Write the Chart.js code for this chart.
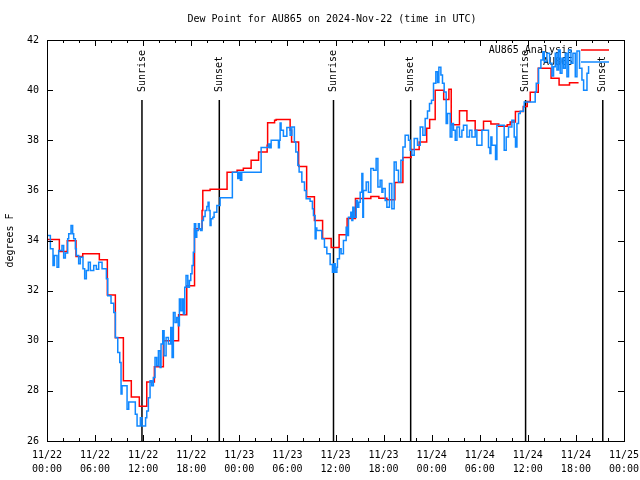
<!DOCTYPE html>
<html>
<head>
<meta charset="utf-8">
<script src="https://cdn.jsdelivr.net/npm/chart.js@4.4.1/dist/chart.umd.min.js"></script>
<style>
  body { margin: 0; background: #fff; }
</style>
</head>
<body>
<canvas id="chart" width="640" height="480"></canvas>
<script>
// Hours since 2024-11-22 00:00 UTC
const analysisHours = [0, 1.54, 2.53, 3.62, 4.46, 6.53, 7.53, 8.53, 9.53, 10.52, 11.52, 12.45, 13.4, 14.52, 16.42,
  17.44, 18.41, 19.35, 19.44, 20.35, 22.47, 23.72, 24.5, 25.47, 26.4, 27.47, 27.53, 28.4, 28.59, 30.34,
  30.52, 31.4, 32.4, 33.37, 34.39, 35.46, 36.45, 37.45, 38.49, 40.41, 41.41, 42.41, 43.41, 44.41, 45.44,
  46.44, 47.38, 47.75, 48.44, 49.5, 50.15, 50.44, 51.47, 52.4, 53.43, 54.47, 55.39, 56.37, 57.43, 57.8,
  58.45, 59.43, 59.93, 60.3, 61.3, 62.9, 63.9, 65.2, 66.33];
const analysisValues = [34.04, 33.56, 33.99, 33.36, 33.47, 33.23, 31.83, 30.12, 28.4, 27.76, 27.39, 28.35, 28.96, 30.0, 31.04,
  32.19, 34.47, 35.2, 36.0, 36.04, 36.72, 36.8, 36.88, 37.2, 37.53, 37.8, 38.7, 38.8, 38.83, 38.4,
  37.93, 36.95, 35.75, 34.8, 34.08, 33.72, 34.23, 34.88, 35.68, 35.76, 35.69, 35.63, 36.31, 37.31, 37.63,
  37.93, 38.48, 38.83, 40.0, 39.63, 40.03, 38.62, 39.18, 38.78, 38.4, 38.76, 38.65, 38.56, 38.62, 38.73,
  39.15, 39.35, 39.55, 39.92, 40.87, 40.47, 40.2, 40.29, 40.29];

const obsHours = [0, 0.42, 0.75, 0.92, 1.25, 1.46, 1.87, 2.08, 2.29, 2.58, 2.71, 3.0, 3.2, 3.33, 3.54, 3.66, 3.95,
  4.16, 4.49, 4.7, 4.91, 5.16, 5.41, 5.83, 6.16, 6.45, 6.87, 7.41, 7.58, 7.99, 8.33, 8.53, 8.83, 9.08,
  9.24, 9.36, 9.99, 10.2, 11.02, 11.24, 11.65, 11.86, 12.3, 12.45, 12.65, 12.86, 13.07, 13.27, 13.48,
  13.69, 13.9, 14.11, 14.23, 14.44, 14.61, 14.86, 15.15, 15.44, 15.61, 15.77, 15.98, 16.19, 16.39, 16.52,
  16.69, 16.89, 17.02, 17.19, 17.35, 17.57, 17.77, 17.94, 18.1, 18.26, 18.39, 18.56, 18.69, 18.89, 19.01,
  19.18, 19.35, 19.52, 19.73, 19.94, 20.1, 20.22, 20.35, 20.47, 20.69, 20.85, 21.19, 21.6, 23.13, 23.8,
  23.97, 24.13, 24.3, 26.72, 27.63, 27.8, 27.97, 28.88, 29.0, 29.09, 29.21, 29.5, 29.93, 30.34, 30.55,
  30.87, 31.05, 31.3, 31.46, 31.8, 32.13, 32.34, 32.83, 33.12, 33.25, 33.46, 33.58, 33.67, 34.29, 34.62,
  34.92, 35.33, 35.62, 35.79, 35.96, 36.17, 36.24, 36.49, 36.7, 36.99, 37.33, 37.49, 37.62, 37.91, 38.04,
  38.16, 38.33, 38.58, 38.74, 38.91, 39.08, 39.29, 39.41, 39.49, 39.83, 40.11, 40.41, 40.74, 41.07, 41.29,
  41.57, 41.79, 41.91, 42.2, 42.41, 42.73, 43.03, 43.32, 43.57, 43.86, 44.16, 44.41, 44.69, 45.11, 45.32,
  45.53, 45.82, 46.23, 46.57, 46.9, 47.19, 47.48, 47.73, 47.98, 48.23, 48.52, 48.73, 48.9, 49.15, 49.35,
  49.56, 49.81, 49.98, 50.31, 50.52, 50.72, 50.94, 51.15, 51.47, 51.77, 51.97, 52.4, 52.72, 53.02, 53.43,
  53.64, 54.27, 55.09, 55.27, 55.39, 55.52, 55.97, 56.14, 57.05, 57.3, 57.59, 58.01, 58.3, 58.46, 58.64,
  58.84, 59.05, 59.46, 59.55, 60.92, 61.05, 61.34, 61.63, 61.88, 62.05, 62.38, 62.71, 63.01, 63.21, 63.42,
  63.63, 63.83, 64.04, 64.26, 64.46, 64.67, 64.88, 65.08, 65.38, 65.63, 65.92, 66.13, 66.45, 66.75, 66.96,
  67.38, 67.58];
const obsValues = [34.2, 33.67, 33.0, 33.4, 32.93, 33.6, 33.8, 33.3, 33.5, 34.07, 34.27, 34.6, 34.27, 34.07, 33.67, 33.4, 33.07,
  33.33, 32.87, 32.47, 32.8, 33.13, 32.8, 33.0, 32.85, 33.13, 32.87, 32.47, 31.8, 31.5, 31.13, 30.13, 29.53, 29.13,
  27.88, 28.2, 27.27, 27.56, 27.07, 26.6, 26.93, 26.6, 26.93, 27.2, 27.73, 28.4, 28.2, 28.53, 29.33,
  29.0, 29.6, 28.93, 29.87, 30.4, 29.4, 30.13, 29.87, 30.53, 29.33, 31.13, 30.73, 30.93, 30.6, 31.67,
  31.2, 31.67, 31.07, 32.13, 32.6, 32.13, 32.4, 32.67, 33.0, 33.53, 34.67, 34.13, 34.4, 34.67, 34.47,
  34.4, 34.8, 34.96, 35.2, 35.36, 35.53, 35.2, 34.6, 34.87, 34.93, 35.13, 35.4, 35.71, 36.72, 36.47,
  36.72, 36.4, 36.72, 37.71, 37.85, 37.7, 38.0, 37.7, 38.0, 38.69, 38.4, 38.16, 38.51, 38.2, 38.53,
  37.93, 37.53, 37.0, 36.73, 36.33, 36.0, 35.67, 35.57, 35.27, 35.0, 34.07, 34.5, 34.4, 34.07, 33.73,
  33.47, 33.04, 32.73, 33.07, 32.73, 32.93, 33.27, 33.67, 33.47, 34.0, 34.53, 34.2, 34.93, 35.13, 34.8,
  35.33, 34.93, 35.6, 35.33, 35.53, 35.93, 36.67, 34.93, 36.0, 36.33, 35.93, 36.87, 36.8, 37.27, 36.13,
  36.4, 35.93, 36.07, 35.6, 35.33, 36.27, 35.27, 37.13, 36.8, 36.33, 37.2, 37.73, 38.2, 38.0, 37.6,
  37.4, 38.07, 37.8, 38.53, 38.2, 38.87, 39.17, 39.47, 39.6, 40.27, 40.73, 40.3, 40.91, 40.6, 40.27,
  39.93, 38.67, 39.07, 38.13, 38.67, 38.4, 38.0, 38.53, 38.13, 38.4, 38.6, 38.13, 38.4, 38.13, 38.4,
  37.8, 38.4, 37.71, 37.47, 38.13, 37.8, 37.23, 38.6, 37.6, 38.13, 38.53, 38.8, 38.13, 37.73, 38.67,
  39.07, 39.16, 39.33, 39.53, 39.93, 40.27, 40.87, 41.2, 41.53, 41.13, 41.47, 41.07, 40.56, 40.93, 41.47,
  40.8, 41.6, 40.67, 41.27, 40.87, 41.47, 40.53, 41.6, 41.07, 41.47, 40.53, 41.56, 40.87, 40.4, 40.0,
  40.67, 40.96];

const sunHours = [11.85, 21.5, 35.75, 45.38, 59.72, 69.35];
const sunLabels = ['Sunrise', 'Sunset', 'Sunrise', 'Sunset', 'Sunrise', 'Sunset'];

const tickDates = ['11/22', '11/22', '11/22', '11/22', '11/23', '11/23', '11/23', '11/23',
  '11/24', '11/24', '11/24', '11/24', '11/25'];
const tickTimes = ['00:00', '06:00', '12:00', '18:00', '00:00', '06:00', '12:00', '18:00',
  '00:00', '06:00', '12:00', '18:00', '00:00'];

const seriesNames = ['AU865 Analysis', 'AU865'];
const seriesColors = ['#ff0000', '#1088ff'];
const titleText = 'Dew Point for AU865 on 2024-Nov-22 (time in UTC)';

const FONT = 'DejaVu Sans Mono';
Chart.defaults.font.family = FONT;
Chart.defaults.font.size = 10;
Chart.defaults.color = '#000';

function toPoints(hours, values) {
  return hours.map((h, i) => ({ x: h, y: values[i] }));
}

// gnuplot look: box, inward ticks, sun lines, key and title
const gnuplotFrame = {
  id: 'gnuplotFrame',
  beforeDatasetsDraw(chart) {
    const { ctx, chartArea: a, scales: { x } } = chart;
    ctx.save();
    ctx.font = '10px ' + FONT;
    ctx.fillStyle = '#000';

    // sunrise / sunset markers
    ctx.strokeStyle = '#000';
    ctx.lineWidth = 1.5;
    sunHours.forEach((h, i) => {
      const px = x.getPixelForValue(h);
      ctx.beginPath();
      ctx.moveTo(px, a.top + 60);
      ctx.lineTo(px, a.bottom);
      ctx.stroke();
      ctx.save();
      ctx.translate(px, a.top + 52);
      ctx.rotate(-Math.PI / 2);
      ctx.textAlign = 'left';
      ctx.textBaseline = 'middle';
      ctx.fillText(sunLabels[i], 0, 0);
      ctx.restore();
    });

    // key
    ctx.textAlign = 'right';
    ctx.textBaseline = 'middle';
    ctx.lineWidth = 1.5;
    seriesNames.forEach((name, i) => {
      const ky = a.top + 10 + i * 12;
      ctx.fillText(name, a.right - 51, ky);
      ctx.strokeStyle = seriesColors[i];
      ctx.beginPath();
      ctx.moveTo(a.right - 43, ky);
      ctx.lineTo(a.right - 15, ky);
      ctx.stroke();
    });
    ctx.restore();
  },
  afterDraw(chart) {
    const { ctx, chartArea: a, scales: { x, y } } = chart;
    ctx.save();
    ctx.strokeStyle = '#000';
    ctx.lineWidth = 1;
    ctx.strokeRect(a.left + 0.5, a.top + 0.5, a.right - a.left, a.bottom - a.top);

    ctx.beginPath();
    for (let h = x.min; h <= x.max; h += 2) {
      const px = Math.round(x.getPixelForValue(h)) + 0.5;
      const len = h % 6 === 0 ? 6 : 3;
      ctx.moveTo(px, a.bottom);
      ctx.lineTo(px, a.bottom - len);
      ctx.moveTo(px, a.top);
      ctx.lineTo(px, a.top + len);
    }
    for (let v = y.min; v <= y.max; v += 2) {
      const py = Math.round(y.getPixelForValue(v)) + 0.5;
      ctx.moveTo(a.left, py);
      ctx.lineTo(a.left + 6, py);
      ctx.moveTo(a.right, py);
      ctx.lineTo(a.right - 6, py);
    }
    ctx.stroke();

    ctx.font = '10px ' + FONT;
    ctx.fillStyle = '#000';
    ctx.textAlign = 'center';
    ctx.textBaseline = 'middle';
    ctx.fillText(titleText, 332, 19);
    ctx.restore();
  }
};

new Chart(document.getElementById('chart'), {
  type: 'line',
  data: {
    datasets: [
      {
        label: seriesNames[0],
        data: toPoints(analysisHours, analysisValues),
        borderColor: seriesColors[0],
        borderWidth: 1.5,
        stepped: true,
        pointRadius: 0,
        fill: false,
        order: 2
      },
      {
        label: seriesNames[1],
        data: toPoints(obsHours, obsValues),
        borderColor: seriesColors[1],
        borderWidth: 1.5,
        stepped: true,
        pointRadius: 0,
        fill: false,
        order: 1
      }
    ]
  },
  options: {
    responsive: false,
    animation: false,
    layout: { padding: { top: 40, right: 16, left: 0, bottom: 0 } },
    plugins: {
      legend: { display: false },
      tooltip: { enabled: false }
    },
    scales: {
      x: {
        type: 'linear',
        min: 0,
        max: 72,
        grid: { display: false, drawTicks: false },
        border: { display: false },
        ticks: {
          stepSize: 6,
          autoSkip: false,
          maxRotation: 0,
          padding: 7,
          font: { family: FONT, size: 10, lineHeight: '14px' },
          callback: (value) => [tickDates[value / 6], tickTimes[value / 6]]
        },
        afterFit(scale) {
          scale.height = 39;
          scale.paddingLeft = 0;
          scale.paddingRight = 0;
        }
      },
      y: {
        min: 26,
        max: 42,
        grid: { display: false, drawTicks: false },
        border: { display: false },
        ticks: { stepSize: 2, padding: 8 },
        title: {
          display: true,
          text: 'degrees F',
          padding: { top: 4, bottom: 0 },
          font: { family: FONT, size: 10 }
        },
        afterFit(scale) {
          scale.width = 47;
          scale.paddingTop = 0;
          scale.paddingBottom = 0;
        }
      }
    }
  },
  plugins: [gnuplotFrame]
});
</script>
</body>
</html>
